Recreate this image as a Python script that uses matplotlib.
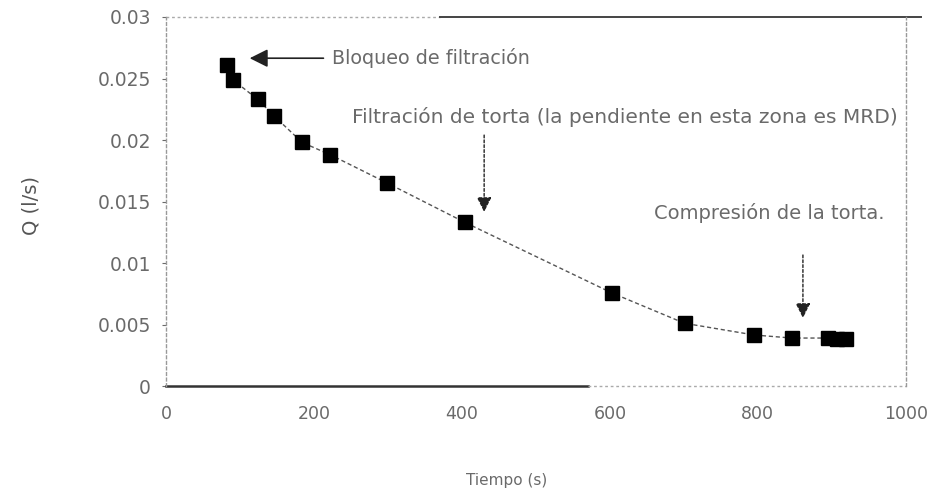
import matplotlib.pyplot as plt

# Caudal vs tiempo en la filtración
tiempo = [82, 90, 124, 146, 184, 222, 299, 404, 603, 701, 795, 846, 895, 907, 919]
caudal = [0.0261, 0.0249, 0.0233, 0.02195, 0.0198, 0.0188, 0.0165, 0.0133,
          0.00756, 0.0051, 0.00415, 0.0039, 0.0039, 0.0038, 0.0038]

x_ticks = [0, 200, 400, 600, 800, 1000]
y_ticks = [0, 0.005, 0.01, 0.015, 0.02, 0.025, 0.03]
y_tick_labels = ['0', '0.005', '0.01', '0.015', '0.02', '0.025', '0.03']

gris = '#6a6a6a'

fig = plt.figure(figsize=(9.28, 4.97), dpi=100)
ax = fig.add_axes([0.179, 0.2233, 0.797, 0.7425])

ax.plot(tiempo, caudal, color='#555555', linestyle=(0, (3, 2)), linewidth=1.0,
        marker='s', markersize=10, markerfacecolor='black', markeredgecolor='black')

ax.set_xlim(0, 1000)
ax.set_ylim(0, 0.03)
ax.set_xticks(x_ticks)
ax.set_yticks(y_ticks)
ax.set_yticklabels(y_tick_labels)
ax.tick_params(axis='x', length=0, pad=14, labelsize=12.5, labelcolor=gris)
ax.tick_params(axis='y', length=3, direction='out', color=gris, pad=8,
               labelsize=13.5, labelcolor=gris)

# marco: izquierdo y derecho punteados, inferior y superior mitad sólido mitad punteado
for lado in ['left', 'right']:
    ax.spines[lado].set_color('#999999')
    ax.spines[lado].set_linestyle((0, (2, 2)))
    ax.spines[lado].set_linewidth(1.0)
ax.spines['top'].set_visible(False)
ax.spines['bottom'].set_visible(False)
ax.plot([0, 0.57], [0, 0], transform=ax.transAxes, color='#333333', lw=1.8, clip_on=False)
ax.plot([0.57, 1], [0, 0], transform=ax.transAxes, color='#aaaaaa', lw=1.0,
        ls=(0, (2, 2)), clip_on=False)
ax.plot([0, 0.37], [1, 1], transform=ax.transAxes, color='#aaaaaa', lw=1.0,
        ls=(0, (2, 2)), clip_on=False)
ax.plot([0.37, 1.02], [1, 1], transform=ax.transAxes, color='#444444', lw=1.4, clip_on=False)

ax.set_xlabel('Tiempo (s)', fontsize=11, color=gris)
ax.xaxis.set_label_coords(0.46, -0.235)
ax.set_ylabel('Q (l/s)', fontsize=14, color='#555555')
ax.yaxis.set_label_coords(-0.17, 0.49)

flecha = dict(arrowstyle='-|>,head_length=0.9,head_width=0.45', color='#222222',
              linewidth=1.0, linestyle=(0, (2, 1.5)), shrinkA=0, shrinkB=0)

ax.annotate('Bloqueo de filtración', xy=(113, 0.02665), xytext=(224, 0.02665),
            fontsize=13.8, color=gris, va='center', ha='left',
            arrowprops=dict(arrowstyle='-|>,head_length=0.8,head_width=0.4',
                            color='#222222', linewidth=1.2, shrinkA=4, shrinkB=0))

ax.text(251, 0.02187, 'Filtración de torta (la pendiente en esta zona es MRD)',
        fontsize=14.5, color=gris, va='center', ha='left')
ax.annotate('', xy=(430, 0.01415), xytext=(430, 0.0204), arrowprops=flecha)

ax.text(659, 0.01407, 'Compresión de la torta.', fontsize=14, color=gris,
        va='center', ha='left')
ax.annotate('', xy=(861, 0.00553), xytext=(861, 0.01065), arrowprops=flecha)

plt.savefig('out.png', dpi=100)
